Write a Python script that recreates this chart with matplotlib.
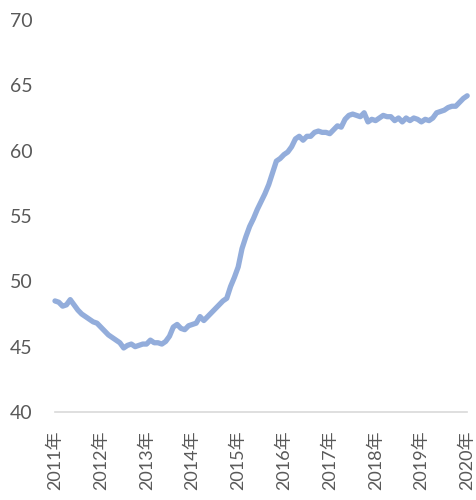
import matplotlib
matplotlib.use("Agg")
import matplotlib.pyplot as plt
import numpy as np

# monthly values, 2011-01 .. 2020-01
values = [
    48.5, 48.4, 48.1, 48.2, 48.6, 48.2, 47.8, 47.5, 47.3, 47.1, 46.9, 46.8,
    46.5, 46.2, 45.9, 45.7, 45.5, 45.3, 44.9, 45.1, 45.2, 45.0, 45.1, 45.2,
    45.2, 45.5, 45.3, 45.3, 45.2, 45.4, 45.8, 46.5, 46.7, 46.4, 46.3, 46.6,
    46.7, 46.8, 47.3, 47.0, 47.3, 47.6, 47.9, 48.2, 48.5, 48.7, 49.6, 50.3,
    51.1, 52.5, 53.4, 54.2, 54.8, 55.5, 56.1, 56.7, 57.4, 58.3, 59.2, 59.4,
    59.7, 59.9, 60.3, 60.9, 61.1, 60.8, 61.1, 61.1, 61.4, 61.5, 61.4, 61.4,
    61.3, 61.6, 61.9, 61.8, 62.4, 62.7, 62.8, 62.7, 62.6, 62.9, 62.2, 62.4,
    62.3, 62.5, 62.7, 62.6, 62.6, 62.3, 62.5, 62.2, 62.5, 62.3, 62.5, 62.4,
    62.2, 62.4, 62.3, 62.5, 62.9, 63.0, 63.1, 63.3, 63.4, 63.4, 63.7, 64.0,
    64.2,
]
years = ["2011年", "2012年", "2013年", "2014年", "2015年",
         "2016年", "2017年", "2018年", "2019年", "2020年"]
y_ticks = [40, 45, 50, 55, 60, 65, 70]

plt.rcParams['font.family'] = ['Lato', 'Noto Sans CJK SC', 'DejaVu Sans']

fig = plt.figure(figsize=(4.76, 5.0), dpi=100)
ax = fig.add_axes([0.1155, 0.176, 0.866, 0.784])

x = np.arange(len(values))
ax.plot(x, values, color="#93ADDB", linewidth=3.8,
        solid_capstyle="round", solid_joinstyle="round", clip_on=False)

ax.set_xlim(0, len(values) - 1)
ax.set_ylim(40, 70)
ax.set_yticks(y_ticks)
ax.set_xticks(np.arange(0, len(values), 12))
ax.set_xticklabels(years, rotation=90)

for side in ["top", "right", "left"]:
    ax.spines[side].set_visible(False)
ax.spines["bottom"].set_color("#D9D9D9")
ax.spines["bottom"].set_linewidth(1.2)

ax.tick_params(axis="y", length=0, pad=16, labelsize=14, labelcolor="#595959")
ax.tick_params(axis="x", length=0, pad=13, labelsize=13, labelcolor="#595959")

fig.savefig("out.png", dpi=100)
